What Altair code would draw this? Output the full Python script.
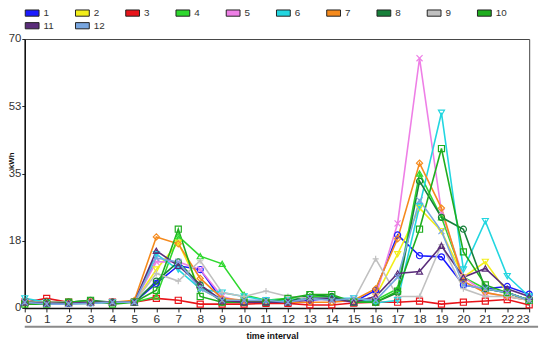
import altair as alt
import pandas as pd

hours = list(range(24))
names = ["1", "2", "3", "4", "5", "6", "7", "8", "9", "10", "11", "12"]
colors = ["#1a1aff", "#f2ee1a", "#e8141a", "#2ed82e", "#ee7fe6", "#22d6e0",
          "#f58a1c", "#17803a", "#c0c0c0", "#1fae1f", "#5a2d7a", "#78a6e0"]
shapes = ["circle", "triangle-down", "square", "triangle-up", "M-1,-1L1,1M1,-1L-1,1",
          "triangle-down", "diamond", "circle", "M-1,0H1M0,-1V1", "square",
          "triangle-up", "M-1,-1L1,1M1,-1L-1,1"]

s1 = [1.5, 1.2, 1.2, 1.3, 1.5, 1.5, 6.4, 11, 10, 2, 1.5, 1.5, 1.5, 2, 2.5, 1.5, 4.6, 19, 13.6, 13.3, 6, 5, 5.6, 3.6]
s2 = [1.2, 1.2, 1.2, 1.2, 1.5, 1.5, 10, 17, 5, 2, 1.5, 1.5, 1.5, 2.5, 2.5, 1.5, 3, 14, 26, 20, 8, 12, 4, 2]
s3 = [1.5, 2.5, 1.5, 1.5, 1.5, 1.5, 2.5, 2, 1, 1, 1, 1.2, 1.2, 0.8, 0.8, 1.3, 1.5, 1.5, 1.8, 1, 1.5, 1.8, 2.2, 0.8]
s4 = [1.5, 1.5, 1.5, 1.5, 1.5, 1.5, 3, 18.7, 13.5, 11.5, 3.4, 2, 2.5, 3, 3, 1.5, 2, 5, 35, 23.6, 8, 5, 4, 2]
s5 = [1.5, 1.2, 1.5, 1.5, 1.5, 1.5, 12, 12, 10, 3, 1.5, 1.5, 1.5, 2.5, 2, 1.5, 3, 22, 65, 25, 8, 4, 3, 2]
s6 = [2.5, 1.5, 1.2, 1.2, 1.5, 1.5, 14, 10, 5, 4, 3, 2, 2, 2.5, 2.5, 2.5, 1.3, 2, 26.5, 50.8, 10, 22.6, 8.3, 3]
s7 = [1.5, 1.5, 1.5, 1.5, 1.5, 2, 18.5, 16.7, 7.7, 2.5, 2, 1.5, 1.5, 1.5, 1.5, 2, 5, 18, 37.7, 26, 7, 4, 3, 2]
s8 = [1.5, 1.5, 1.5, 2, 1.5, 1.5, 7, 12, 6, 1.5, 1.5, 1.5, 1.5, 3.5, 3, 1.5, 1.5, 4, 33, 23.6, 20.5, 5, 4, 2]
s9 = [1.5, 1.5, 1.5, 1.5, 1.5, 1.5, 9, 7, 12.3, 4, 3, 4.4, 3, 2.5, 2, 2, 12.8, 3, 3, 16.5, 5, 3, 3, 2]
s10 = [1, 1, 1.5, 2, 1, 1.5, 4.6, 20.5, 3, 1.5, 1.5, 1.5, 2.5, 3.5, 3.5, 1.5, 1.5, 4.4, 20.5, 41.5, 14.6, 6, 4, 2]
s11 = [1.5, 1.2, 1.2, 1.5, 1.5, 1.5, 14.9, 11, 6, 2, 1.5, 1.5, 1.5, 2.5, 2.5, 1.5, 3, 9, 9.5, 16.2, 8, 10.3, 5, 3]
s12 = [1.5, 1, 1, 1.2, 1.5, 1.5, 13, 12, 5, 2, 2, 2, 1.5, 2.5, 2, 2.5, 2, 8, 28, 20, 6, 5, 4, 2]

series = [s1, s2, s3, s4, s5, s6, s7, s8, s9, s10, s11, s12]
rows = []
for i, (n, vals) in enumerate(zip(names, series)):
    for h, v in zip(hours, vals):
        rows.append({"series": n, "order": i, "hour": h, "kwh": v})
df = pd.DataFrame(rows)

FONT = "Liberation Sans"

x = alt.X("hour:Q", scale=alt.Scale(domain=[0, 23], nice=False, zero=False),
          axis=alt.Axis(values=hours, title="time interval", grid=False,
                        labelFontSize=12, labelColor="#333", labelFont=FONT,
                        labelOverlap=False,
                        tickSize=4, tickColor="#222", domainColor="#111", domainWidth=1.5,
                        labelPadding=2, titleFontSize=9, titleFontWeight="bold",
                        titleFont=FONT, titleColor="#111", titlePadding=7,
                        titleX=251, titleAlign="center"))
y = alt.Y("kwh:Q", scale=alt.Scale(domain=[0, 70], nice=False),
          axis=alt.Axis(values=[0, 17.5, 35, 52.5, 70], labelExpr="round(datum.value)",
                        title="kWh", grid=False, labelFontSize=11.5, labelColor="#333",
                        labelFont=FONT, tickSize=3, tickColor="#222", domainColor="#111",
                        domainWidth=1.5, labelPadding=1, titleFontSize=8,
                        titleFontWeight="bold", titleFont=FONT, titleColor="#111",
                        titleX=-13, titleY=123, titleBaseline="middle", titleAlign="center",
                        titleAngle=270))

color = alt.Color("series:N", scale=alt.Scale(domain=names, range=colors), legend=None)

fill = alt.Fill("series:N", scale=alt.Scale(domain=names, range=colors),
                legend=alt.Legend(orient="none", legendX=0, legendY=-34, columns=10,
                                  direction="horizontal", title=None, padding=0,
                                  symbolType="M-1,-0.45H1V0.45H-1Z", symbolSize=196,
                                  symbolStrokeWidth=1, symbolStrokeColor="#222",
                                  symbolOpacity=1,
                                  labelFontSize=10, labelFont=FONT, labelColor="#333",
                                  labelOffset=4, columnPadding=18, rowPadding=0,
                                  gridAlign="all"))

base = alt.Chart(df).encode(x=x, y=y, order=alt.Order("hour:Q"))

lines = base.mark_line(strokeWidth=1.6).encode(color=color, detail="series:N")
points = base.mark_point(filled=False, size=38, strokeWidth=1.2, opacity=1).encode(
    color=color,
    shape=alt.Shape("series:N", scale=alt.Scale(domain=names, range=shapes), legend=None))
legend_src = base.mark_point(filled=True, opacity=0).encode(fill=fill)

sep_df = pd.DataFrame({"k": [0]})
sep = alt.Chart(sep_df).mark_rule(stroke="#8a8a8a", strokeWidth=2).encode(
    x=alt.value(0), x2=alt.value(521), y=alt.value(292))

chart = alt.layer(lines, points, legend_src, sep).resolve_scale(color="independent", fill="independent").properties(
    width=512, height=273,
    autosize=alt.AutoSizeParams(type="none"),
    padding={"left": 17, "top": 29, "right": 13, "bottom": 30},
    background="white",
).configure_view(stroke="#444", strokeWidth=1)

chart.save("out.html", embed_options={"renderer": "svg", "actions": False})
